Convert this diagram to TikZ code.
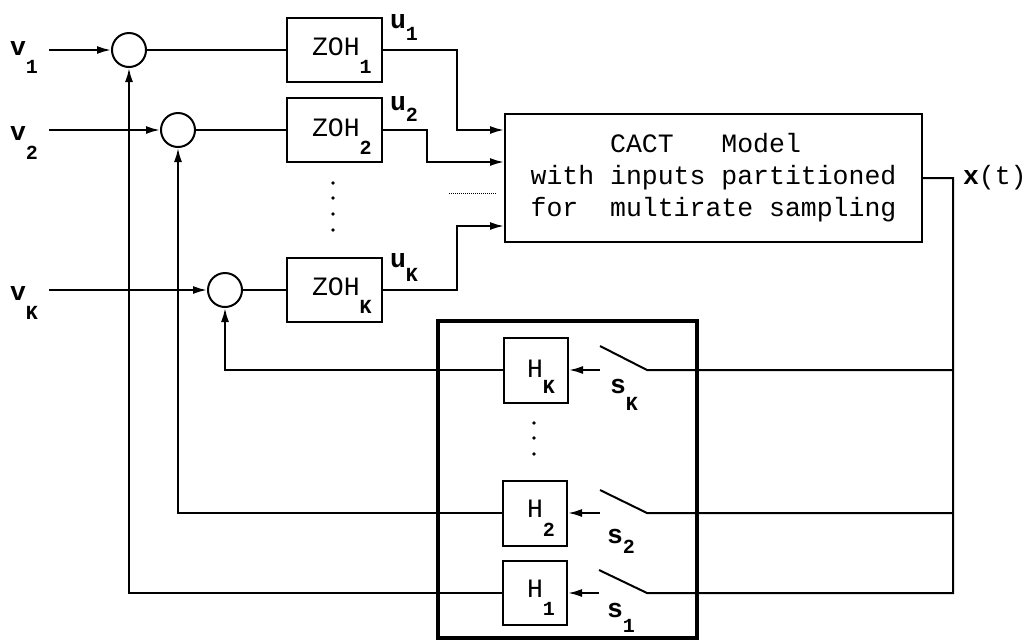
\documentclass[tikz,border=0pt]{standalone}
\usepackage{fontspec}
\setmainfont{Liberation Mono}
\usetikzlibrary{arrows.meta}
\newcommand\subfnt{\fontsize{20}{20}\selectfont\bfseries}
\newcommand\lbl[3]{#1\raisebox{-#3}{\subfnt #2}}
\begin{document}
\begin{tikzpicture}[x=1pt,y=-1pt, line width=2pt,
  font=\fontsize{26.5}{32}\selectfont,
  blk/.style={draw, rectangle, inner sep=0pt, line width=2pt},
  sumc/.style={draw, circle, minimum size=34pt, inner sep=0pt, line width=2pt},
  lab/.style={inner sep=0pt, anchor=base west},
  arr/.style={-{Latex[length=14pt,width=8pt]}},
  dotn/.style={fill, circle, inner sep=0pt, minimum size=3.8pt}]
\useasboundingbox (0,0) rectangle (1025,641);

% summing junctions
\node[sumc] (c1) at (129,50) {};
\node[sumc] (c2) at (178,130) {};
\node[sumc] (cK) at (225,290) {};

% ZOH blocks
\node[blk, minimum width=95pt, minimum height=64pt] (z1) at (334.5,50) {};
\node[blk, minimum width=95pt, minimum height=64pt] (z2) at (334.5,130) {};
\node[blk, minimum width=95pt, minimum height=64pt] (zK) at (334.5,290) {};
\node[lab] (tz1) at (311,55) {\lbl{ZOH}{1}{18pt}};
\node[lab] (tz2) at (311,136) {\lbl{ZOH}{2}{18pt}};
\node[lab] (tzK) at (311,295) {\lbl{ZOH}{K}{18pt}};

% input labels
\node[lab] (v1) at (9,55) {\lbl{\textbf{v}}{1}{18pt}};
\node[lab] (v2) at (9,140) {\lbl{\textbf{v}}{2}{19pt}};
\node[lab] (vK) at (9,300) {\lbl{\textbf{v}}{K}{19pt}};
\coordinate (i1) at (49,50);
\coordinate (i2) at (49,130);
\coordinate (iK) at (49,290);

% u labels
\node[lab] (u1) at (389,28) {\lbl{\textbf{u}}{1}{12pt}};
\node[lab] (u2) at (389,110) {\lbl{\textbf{u}}{2}{11pt}};
\node[lab] (uK) at (389,267) {\lbl{\textbf{u}}{K}{14pt}};

% model
\node[blk, minimum width=417pt, minimum height=128pt, align=center] (m) at (713.5,178)
  {CACT\ \ \ Model\ \mbox{}\\with inputs partitioned\\for\ \ multirate sampling};

% dots between ZOH2 and ZOHK
\node[dotn] (dz1) at (333,183) {};
\node[dotn] (dz2) at (333,198) {};
\node[dotn] (dz3) at (333,214) {};
\node[dotn] (dz4) at (333,230) {};

% dotted stub
\coordinate (ds) at (449,193);
\coordinate (de) at (496,193);
\draw[line width=1pt, dash pattern=on 1.2pt off 0.8pt] (ds) -- (de);

% x(t)
\node[lab] (xt) at (962,184) {\textbf{x}(t)};

% feedback box
\node[draw, line width=4pt, minimum width=259pt, minimum height=317pt, inner sep=0pt] (fb) at (567.5,479.5) {};

% H blocks
\node[blk, minimum width=64pt, minimum height=65pt] (hK) at (536,370) {};
\node[blk, minimum width=64pt, minimum height=65pt] (h2) at (535,513) {};
\node[blk, minimum width=64pt, minimum height=64pt] (h1) at (535,593) {};
\node[lab] (thK) at (526,377) {\lbl{H}{K}{16pt}};
\node[lab] (th2) at (526,517) {\lbl{H}{2}{19pt}};
\node[lab] (th1) at (526,597) {\lbl{H}{1}{18pt}};

% dots between HK and H2
\node[dotn] (dh1) at (534,423) {};
\node[dotn] (dh2) at (534,438) {};
\node[dotn] (dh3) at (534,454) {};

% switch labels
\node[lab] (sK) at (609,393) {\lbl{\textbf{s}}{K}{17pt}};
\node[lab] (s2) at (606,543) {\lbl{\textbf{s}}{2}{10pt}};
\node[lab] (s1) at (606,617) {\lbl{\textbf{s}}{1}{15pt}};

% switch geometry
\coordinate (bK) at (953,370);
\coordinate (b2) at (953,513);
\coordinate (b1) at (953,593);
\coordinate (wK) at (647,370); \coordinate (tK) at (600,346); \coordinate (pK) at (600,370);
\coordinate (w2) at (647,513); \coordinate (t2) at (600,490); \coordinate (p2) at (600,513);
\coordinate (w1) at (647,593); \coordinate (t1) at (599,570); \coordinate (p1) at (599,593);

% forward path
\draw[arr] (i1) -- (c1);
\draw[arr] (i2) -- (c2);
\draw[arr] (iK) -- (cK);
\draw (c1) -- (c1 -| z1.west);
\draw (c2) -- (c2 -| z2.west);
\draw (cK) -- (cK -| zK.west);

\coordinate (a1) at (457,130);
\coordinate (a2) at (427,162);
\coordinate (aK) at (457,226);
\draw[arr] (z1.east) -| (a1) -- (a1 -| m.west);
\draw[arr] (z2.east) -| (a2) -- (a2 -| m.west);
\draw[arr] (zK.east) -| (aK) -- (aK -| m.west);

% output and feedback
\draw (m.east) -| (b1) -- (w1) -- (t1);
\draw (bK) -- (wK) -- (tK);
\draw (b2) -- (w2) -- (t2);
\draw[arr] (pK) -- (pK -| hK.east);
\draw[arr] (p2) -- (p2 -| h2.east);
\draw[arr] (p1) -- (p1 -| h1.east);
\draw[arr] (hK.west) -| (cK);
\draw[arr] (h2.west) -| (c2);
\draw[arr] (h1.west) -| (c1);
\end{tikzpicture}
\end{document}
